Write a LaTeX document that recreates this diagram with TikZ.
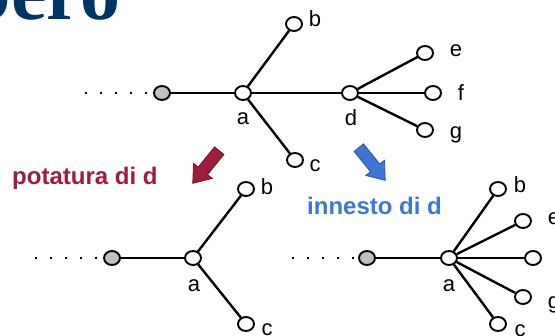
\documentclass[tikz,border=0pt]{standalone}
\usepackage{fontspec}
\setmainfont{Liberation Sans}
\newfontfamily\titlefont{Liberation Serif}
\usetikzlibrary{shapes.geometric}

\definecolor{prunered}{RGB}{158,28,62}
\definecolor{graftblue}{RGB}{62,118,214}
\definecolor{titleblue}{RGB}{0,51,102}
\definecolor{rootgray}{RGB}{192,192,192}

\tikzset{
  vertex/.style={ellipse,draw,line width=1.9pt,fill=white,inner sep=0pt,
                 minimum width=16pt,minimum height=14pt},
  root/.style={vertex,fill=rootgray},
  edge/.style={line width=2.4pt},
  dots/.style={line width=1.8pt,dash pattern=on 1.8pt off 13.2pt},
  lbl/.style={anchor=base,inner sep=0pt,font=\fontsize{22}{24}\selectfont},
  caption/.style={anchor=base west,inner sep=0pt,font=\bfseries\fontsize{24}{26}\selectfont},
  blockarrow/.style={line width=0.8pt,line join=miter},
}

\begin{document}
\begin{tikzpicture}[x=1pt,y=-1pt]
  \clip (0,0) rectangle (555,336);

% slide title, cut by the frame
  \node[anchor=base east,inner sep=0pt,text=titleblue,
        font=\titlefont\bfseries\fontsize{80}{80}\selectfont] (title) at (121,20) {bero};

% original tree
  \coordinate (t0) at (85,93);
  \node[root]   (tr) at (162,93) {};
  \node[vertex] (ta) at (243,93) {};
  \node[vertex] (tb) at (294,24) {};
  \node[vertex] (tc) at (295,160) {};
  \node[vertex] (td) at (350,93) {};
  \node[vertex] (te) at (425,53) {};
  \node[vertex] (tf) at (433,93) {};
  \node[vertex] (tg) at (425,130) {};
  \draw[dots] (t0) -- (tr.west);
  \draw[edge] (tr) -- (ta);
  \foreach \n in {tb,tc,td} {
      \draw[edge] (ta) -- (\n);
  }
  \foreach \n in {te,tf,tg} {
      \draw[edge] (td) -- (\n);
  }
  \node[lbl] (tla) at (243,125) {a};
  \node[lbl] (tlb) at (315,27)  {b};
  \node[lbl] (tlc) at (315,172) {c};
  \node[lbl] (tld) at (351,126) {d};
  \node[lbl] (tle) at (456,57)  {e};
  \node[lbl] (tlf) at (461,101) {f};
  \node[lbl] (tlg) at (456,139) {g};

% pruning: arrow and caption
  \begin{scope}[shift={(206,167)},rotate=231]
    \filldraw[blockarrow,fill=prunered,draw=prunered!70!black]
      (-21,-6) -- (5,-6) -- (5,-12) -- (21,0) -- (5,12) -- (5,6) -- (-21,6) -- cycle;
  \end{scope}
  \node[caption,text=prunered] (prune) at (12,185) {potatura di d};

% grafting: arrow and caption
  \begin{scope}[shift={(372,164)},rotate=309]
    \filldraw[blockarrow,fill=graftblue,draw=graftblue!70!black]
      (-21,-6) -- (5,-6) -- (5,-12) -- (21,0) -- (5,12) -- (5,6) -- (-21,6) -- cycle;
  \end{scope}
  \node[caption,text=graftblue] (graft) at (307,215) {innesto di d};

% tree after pruning d
  \coordinate (p0) at (35,258);
  \node[root]   (pr) at (112,258) {};
  \node[vertex] (pa) at (193,258) {};
  \node[vertex] (pb) at (246,189) {};
  \node[vertex] (pc) at (246,324) {};
  \draw[dots] (p0) -- (pr.west);
  \draw[edge] (pr) -- (pa);
  \draw[edge] (pa) -- (pb);
  \draw[edge] (pa) -- (pc);
  \node[lbl] (pla) at (194,292) {a};
  \node[lbl] (plb) at (267,195) {b};
  \node[lbl] (plc) at (267,336) {c};

% tree after grafting d into a
  \coordinate (g0) at (292,258);
  \node[root]   (gr) at (367,258) {};
  \node[vertex] (ga) at (449,258) {};
  \node[vertex] (gb) at (498,189) {};
  \node[vertex] (ge) at (523,221) {};
  \node[vertex] (gf) at (533,258) {};
  \node[vertex] (gg) at (523,297) {};
  \node[vertex] (gc) at (498,324) {};
  \draw[dots] (g0) -- (gr.west);
  \draw[edge] (gr) -- (ga);
  \foreach \n in {gb,ge,gf,gg,gc} {
      \draw[edge] (ga) -- (\n);
  }
  \node[lbl] (gla) at (449,292) {a};
  \node[lbl] (glb) at (520,193) {b};
  \node[lbl] (gle) at (554,225) {e};
  \node[lbl] (glg) at (554,309) {g};
  \node[lbl] (glc) at (520,337) {c};

\end{tikzpicture}
\end{document}
